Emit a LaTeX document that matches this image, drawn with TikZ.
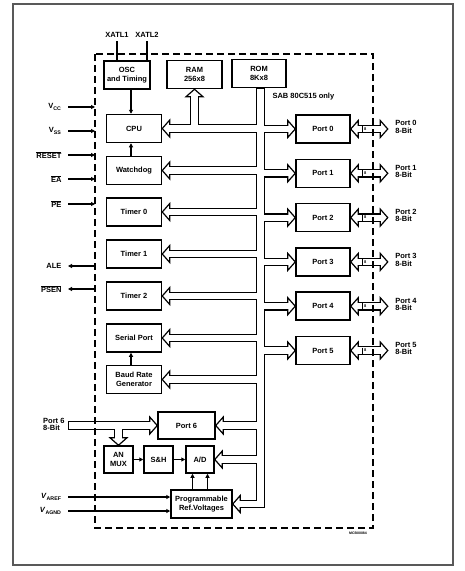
\documentclass[tikz,border=0pt]{standalone}
\usepackage{fontspec}
\setmainfont{Liberation Sans}
\usetikzlibrary{arrows.meta}
\tikzset{%
    >={Triangle[length=4pt,width=4pt]},
    txt/.style={font=\bfseries\fontsize{7.5}{9.5}\selectfont},
    plab/.style={font=\bfseries\fontsize{7.5}{7.3}\selectfont, align=left, anchor=west},
    blk/.style={draw, line width=1.5pt, fill=white, inner sep=0pt, align=center,
        minimum width=55pt, minimum height=28pt, txt},
    busout/.style={line width=8.8pt, shorten >=7.5pt},
    busin/.style={line width=6.2pt, white, shorten >=5.5pt, shorten <=1.3pt},
    sig/.style={line width=1.1pt},
    bushead/.pic={\draw[line width=1.2pt, fill=white] (0,0) -- (7.5,8.5) -- (7.5,-8.5) -- cycle;}
}
% all bus lines, drawn once dark and once white
\newcommand{\busnet}[2]{%
    \draw[#1] ([yshift=0.3pt]rom.south -| bus) -- (ref.east -| bus) -- (ref.east);
    \foreach \b in {cpu,wdt,tzero,tone,ttwo,ser,baud,psix,ad}
        \draw[#1] (\b.east -| bus) -- (\b.east);
    \foreach \k in {0,...,5} {
        \draw[#1] (p\k.west -| bus) -- (p\k.west);
        \draw[#1, shorten <=#2] (p\k.east) -- (x\k);
    }
    \draw[#1] (ram.south |- cpu.east) -- (ram.south);
    \draw[#1] (psixin) -- (psix.west);
    \draw[#1] (anmux.north |- psixin) -- (anmux.north);
}

\begin{document}
\begin{tikzpicture}[x=1pt,y=-1pt]
    \useasboundingbox (0,0) rectangle (465,571);
    \draw[black!65, line width=1.5pt] (13,4) rectangle (453,565);

    % blocks
    \node[blk, minimum width=46pt] (osc) at (127,75) {OSC\\and Timing};
    \node[blk] (ram) at (194.5,74.5) {RAM\\256x8};
    \node[blk, minimum width=54pt] (rom) at (259,73.5) {ROM\\8Kx8};
    \node[blk] (cpu) at (134,128.5) {CPU};
    \node[blk] (wdt) at (134,170.5) {Watchdog};
    \node[blk] (tzero) at (134,212) {Timer 0};
    \node[blk] (tone) at (134,254) {Timer 1};
    \node[blk] (ttwo) at (134,296) {Timer 2};
    \node[blk] (ser) at (134,338) {Serial Port};
    \node[blk] (baud) at (134,379.5) {Baud Rate\\Generator};
    \node[blk, minimum width=57pt, minimum height=27pt] (psix) at (186.5,425.5) {Port 6};
    \node[blk, minimum width=29pt, minimum height=27pt] (anmux) at (118.5,459.5) {AN\\MUX};
    \node[blk, minimum width=29pt, minimum height=27pt] (sh) at (158.5,459.5) {S\&H};
    \node[blk, minimum width=28pt, minimum height=27pt] (ad) at (200,459.5) {A/D};
    \node[blk, minimum width=61pt] (ref) at (201.5,504) {Programmable\\Ref.Voltages};
    \foreach \i/\y in {0/129,1/173.3,2/217.6,3/261.9,4/306.2,5/350.5}
        \node[blk, minimum width=54pt] (p\i) at (323,\y) {Port \i};

    \coordinate (bus) at (260.5,0);
    \coordinate (dl) at (95,0);
    \coordinate (psixin) at (68,425.5);
    \foreach \i in {0,...,5}
        \path (p\i.east) ++(37,0) coordinate (x\i);

    % bus
    \busnet{busout}{7.5pt}
    \foreach \b in {cpu,wdt,tzero,tone,ttwo,ser,baud,psix,ad,ref}
        \pic at (\b.east) {bushead};
    \foreach \i in {0,...,5} {
        \pic[rotate=180] at (p\i.west) {bushead};
        \pic at (p\i.east) {bushead};
        \pic[rotate=180] at (x\i) {bushead};
    }
    \pic[rotate=-90] at (ram.south) {bushead};
    \pic[rotate=180] at (psix.west) {bushead};
    \pic[rotate=90] at (anmux.north) {bushead};
    \busnet{busin}{5.5pt}

    % port pins
    \foreach \i in {0,...,5} {
        \draw[line width=0.6pt] ([xshift=12pt]p\i.east) ++(0,-3) -- ++(0,6);
        \node[font=\bfseries\fontsize{4}{4}\selectfont, inner sep=0pt] (w\i) at ([xshift=14.5pt]p\i.east) {8};
        \node[plab] (pl\i) at ([xshift=41pt,yshift=2pt]p\i.east) {Port \i\\8-Bit};
    }
    \node[plab, anchor=east] (plsix) at ([yshift=1pt]psixin) {Port 6\\8-Bit};
    \node[txt, anchor=west] (sab) at (269,97) {SAB 80C515 only};

    % control signals
    \node[txt] (xtla) at (117,35) {XATL1};
    \node[txt] (xtlb) at (147,35) {XATL2};
    \draw[sig] (xtla.south) -- (xtla.south |- osc.north);
    \draw[sig] (xtlb.south) -- (xtlb.south |- osc.north);

    \node[txt, anchor=east] (vcc) at (65,107) {V\textsubscript{CC}};
    \node[txt, anchor=east] (vss) at (65,131) {V\textsubscript{SS}};
    \node[txt, anchor=east] (reset) at (65,155) {$\overline{\mbox{RESET}}$};
    \node[txt, anchor=east] (ea) at (65,179) {$\overline{\mbox{EA}}$};
    \node[txt, anchor=east] (pe) at (65,204) {$\overline{\mbox{PE}}$};
    \node[txt, anchor=east] (ale) at (65,266) {ALE};
    \node[txt, anchor=east] (psen) at (65,289) {$\overline{\mbox{PSEN}}$};
    \node[txt, anchor=east] (varef) at (65,497) {\textit{V}\textsubscript{AREF}};
    \node[txt, anchor=east] (vagnd) at (65,511) {\textit{V}\textsubscript{AGND}};

    \foreach \s in {vcc,vss,reset,ea,pe}
        \draw[sig,->] ([xshift=3pt]\s.east) -- (\s.east -| dl);
    \foreach \s in {ale,psen}
        \draw[sig,->] (\s.east -| dl) -- ([xshift=3pt]\s.east);
    \draw[sig,->] ([xshift=3pt]varef.east) -- (varef.east -| ref.west);
    \draw[sig,->] ([xshift=3pt]vagnd.east) -- (vagnd.east -| ref.west);

    \draw[sig,->] ([xshift=-3pt]cpu.north |- osc.south) -- ([xshift=-3pt]cpu.north);
    \draw[sig,->] ([xshift=-3pt]wdt.north) -- ([xshift=-3pt]cpu.south);
    \draw[sig,->] ([xshift=-3pt]baud.north) -- ([xshift=-3pt]ser.south);
    \draw[sig,->] (anmux) -- (sh);
    \draw[sig,->] (sh) -- (ad);
    \draw[sig,->] ([xshift=-7.5pt]ad.south |- ref.north) -- ([xshift=-7.5pt]ad.south);
    \draw[sig,->] ([xshift=7.5pt]ad.south |- ref.north) -- ([xshift=7.5pt]ad.south);

    % chip border
    \draw[line width=1.3pt, dash pattern=on 7pt off 4pt] (95,54) rectangle (373,528);
    \node[font=\bfseries\fontsize{3.5}{3.5}\selectfont] (mcb) at (358,533) {MCB00084};
\end{tikzpicture}
\end{document}
